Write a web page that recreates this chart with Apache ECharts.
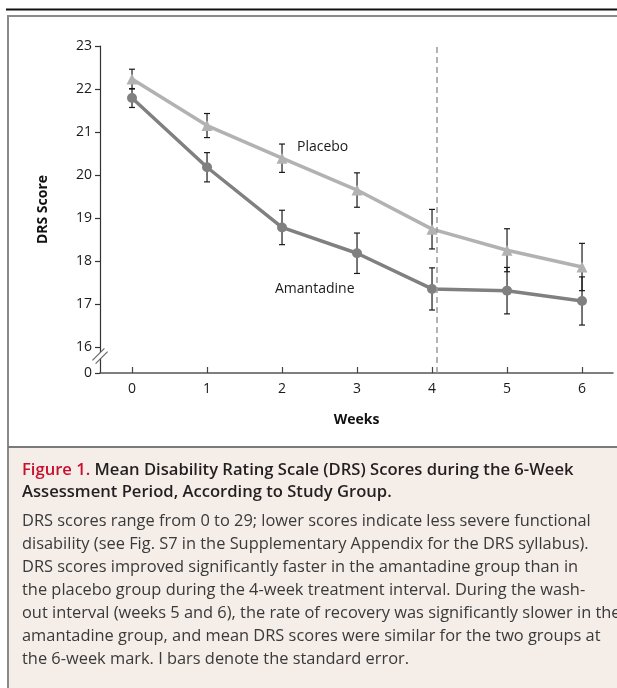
<!doctype html>
<html>
<head>
<meta charset="utf-8">
<title>Mean DRS Scores</title>
<script src="https://cdn.jsdelivr.net/npm/echarts@6/dist/echarts.min.js"></script>
<style>
    html,body{
        margin: 0;
        padding: 0;
        width: 617px;
        height: 688px;
        background: #fff;
        overflow: hidden;
    }
    #chart{
        width: 617px;
        height: 688px;
    }
</style>
</head>
<body>
<div id="chart"></div>
<script>
    // data
    var weeks = [0, 1, 2, 3, 4, 5, 6];
    var placebo = [22.23, 21.15, 20.39, 19.65, 18.74, 18.25, 17.86];
    var placeboSE = [0.23, 0.28, 0.33, 0.40, 0.46, 0.50, 0.55];
    var amantadine = [21.79, 20.18, 18.78, 18.18, 17.35, 17.31, 17.07];
    var amantadineSE = [0.22, 0.34, 0.40, 0.47, 0.49, 0.54, 0.56];
    var yTicks = [16, 17, 18, 19, 20, 21, 22, 23];
    var yBreak = 15.395;     // where "0" sits below the axis break
    var washoutStart = 4.06; // dashed line, end of treatment

    var titleLines = [
        '{red|Figure 1.} Mean Disability Rating Scale (DRS) Scores during the 6-Week',
        'Assessment Period, According to Study Group.'
    ];
    var bodyLines = [
        'DRS scores range from 0 to 29; lower scores indicate less severe functional',
        'disability (see Fig. S7 in the Supplementary Appendix for the DRS syllabus).',
        'DRS scores improved significantly faster in the amantadine group than in',
        'the placebo group during the 4-week treatment interval. During the wash-',
        'out interval (weeks 5 and 6), the rate of recovery was significantly slower in the',
        'amantadine group, and mean DRS scores were similar for the two groups at',
        'the 6-week mark. I bars denote the standard error.'
    ];

    var tickFont = '"Open Sans", "Noto Sans", sans-serif';
    var capFont = '"Open Sans", "Noto Sans", sans-serif';

    function pairs(vals){
        return weeks.map(function(w, i){ return [w, vals[i]]; });
    }

    function errorBars(name, means, se){
        return {
            name: name + ' SE',
            type: 'custom',
            silent: true,
            data: weeks.map(function(w, i){ return [w, means[i] - se[i], means[i] + se[i]]; }),
            renderItem: function(params, api){
                var lo = api.coord([api.value(0), api.value(1)]);
                var hi = api.coord([api.value(0), api.value(2)]);
                var cap = 3;
                var st = {stroke: '#1a1a1a', lineWidth: 1.2};
                return {
                    type: 'group',
                    children: [
                        {type: 'line', shape: {x1: hi[0], y1: hi[1], x2: lo[0], y2: lo[1]}, style: st},
                        {type: 'line', shape: {x1: hi[0] - cap, y1: hi[1], x2: hi[0] + cap, y2: hi[1]}, style: st},
                        {type: 'line', shape: {x1: lo[0] - cap, y1: lo[1], x2: lo[0] + cap, y2: lo[1]}, style: st}
                    ]
                };
            },
            z: 1
        };
    }

    var graphics = [
        {type: 'rect', shape: {x: 8, y: 447, width: 620, height: 260}, style: {fill: '#f4ede8'}, z: -10},
        {type: 'rect', shape: {x: 8, y: 16, width: 620, height: 700}, style: {fill: 'none', stroke: '#8a8a8a', lineWidth: 2}, z: -9},
        {type: 'line', shape: {x1: 8, y1: 447, x2: 617, y2: 447}, style: {stroke: '#7a7a7a', lineWidth: 2}, z: -9},
        {type: 'line', shape: {x1: 6, y1: 9.5, x2: 617, y2: 9.5}, style: {stroke: '#111', lineWidth: 2}, z: -9},
        {type: 'text', x: 297, y: 147, style: {text: 'Placebo', font: '14px ' + tickFont, fill: '#1a1a1a', verticalAlign: 'middle'}},
        {type: 'text', x: 275, y: 289, style: {text: 'Amantadine', font: '14px ' + tickFont, fill: '#1a1a1a', verticalAlign: 'middle'}}
    ];
    titleLines.forEach(function(t, i){
        graphics.push({
            type: 'text', x: 22, y: 470 + i * 22,
            style: {
                text: t, font: '600 16.6px ' + capFont, fill: '#231f20', verticalAlign: 'middle',
                rich: {red: {fill: '#c8102e', fontSize: 16.6, fontWeight: 600, fontFamily: capFont}}
            }
        });
    });
    bodyLines.forEach(function(t, i){
        graphics.push({
            type: 'text', x: 22, y: 521 + i * 23,
            style: {text: t, font: '16.4px ' + capFont, fill: '#3a3a3a', verticalAlign: 'middle'}
        });
    });

    var chart = echarts.init(document.getElementById('chart'));
    var option = {
        animation: false,
        backgroundColor: '#fff',
        grid: {left: 100, right: 4, top: 46, bottom: 315, containLabel: false},
        xAxis: {
            type: 'value',
            min: -0.427,
            max: 6.413,
            name: 'Weeks',
            nameLocation: 'middle',
            nameGap: 40,
            nameTextStyle: {fontFamily: tickFont, fontWeight: 'bold', fontSize: 14, color: '#111'},
            axisLine: {onZero: false, lineStyle: {color: '#555', width: 1.5}},
            axisTick: {inside: true, length: 6, customValues: weeks, lineStyle: {color: '#444', width: 1.2}},
            axisLabel: {customValues: weeks, margin: 9, fontFamily: tickFont, fontSize: 14, color: '#1a1a1a'},
            splitLine: {show: false}
        },
        yAxis: {
            type: 'value',
            min: yBreak,
            max: 23,
            name: 'DRS Score',
            nameLocation: 'middle',
            nameGap: 50,
            nameTextStyle: {fontFamily: tickFont, fontWeight: 'bold', fontSize: 14, color: '#111'},
            axisLine: {show: true, onZero: false, lineStyle: {color: '#333', width: 1.2}},
            axisTick: {show: true, length: 5, customValues: [yBreak].concat(yTicks), lineStyle: {color: '#333', width: 1.2}},
            axisLabel: {
                customValues: [yBreak].concat(yTicks),
                showMinLabel: true,
                margin: 8,
                fontFamily: tickFont, fontSize: 14, color: '#1a1a1a',
                formatter: function(v){ return Math.abs(v - yBreak) < 1e-6 ? '0' : String(v); }
            },
            splitLine: {show: false}
        },
        series: [
            errorBars('Placebo', placebo, placeboSE),
            errorBars('Amantadine', amantadine, amantadineSE),
            {
                name: 'Placebo',
                type: 'line',
                data: pairs(placebo),
                symbol: 'triangle',
                symbolSize: 11,
                lineStyle: {color: '#b2b2b2', width: 3.5},
                itemStyle: {color: '#b2b2b2'},
                z: 3,
                markLine: {
                    silent: true,
                    symbol: 'none',
                    label: {show: false},
                    lineStyle: {color: '#9a9a9a', width: 1.5, type: [6, 4]},
                    data: [{xAxis: washoutStart}]
                }
            },
            {
                name: 'Amantadine',
                type: 'line',
                data: pairs(amantadine),
                symbol: 'circle',
                symbolSize: 10,
                lineStyle: {color: '#808080', width: 3.5},
                itemStyle: {color: '#808080'},
                z: 3
            }
        ],
        graphic: graphics
    };
    chart.setOption(option);

    // axis break mark "//" between 0 and 16
    var ax = chart.convertToPixel({xAxisIndex: 0}, -0.427);
    var by = chart.convertToPixel({yAxisIndex: 0}, (yBreak + 16) / 2) - 4;
    var d = 6, o = 1.6;
    graphics.push(
        {type: 'line', shape: {x1: ax - d, y1: by + d, x2: ax + d, y2: by - d}, style: {stroke: '#fff', lineWidth: 4}, z: 10},
        {type: 'line', shape: {x1: ax - d - o, y1: by + d - o, x2: ax + d - o, y2: by - d - o}, style: {stroke: '#666', lineWidth: 1.2}, z: 11},
        {type: 'line', shape: {x1: ax - d + o, y1: by + d + o, x2: ax + d + o, y2: by - d + o}, style: {stroke: '#666', lineWidth: 1.2}, z: 11}
    );
    chart.setOption({graphic: graphics});
</script>
</body>
</html>
